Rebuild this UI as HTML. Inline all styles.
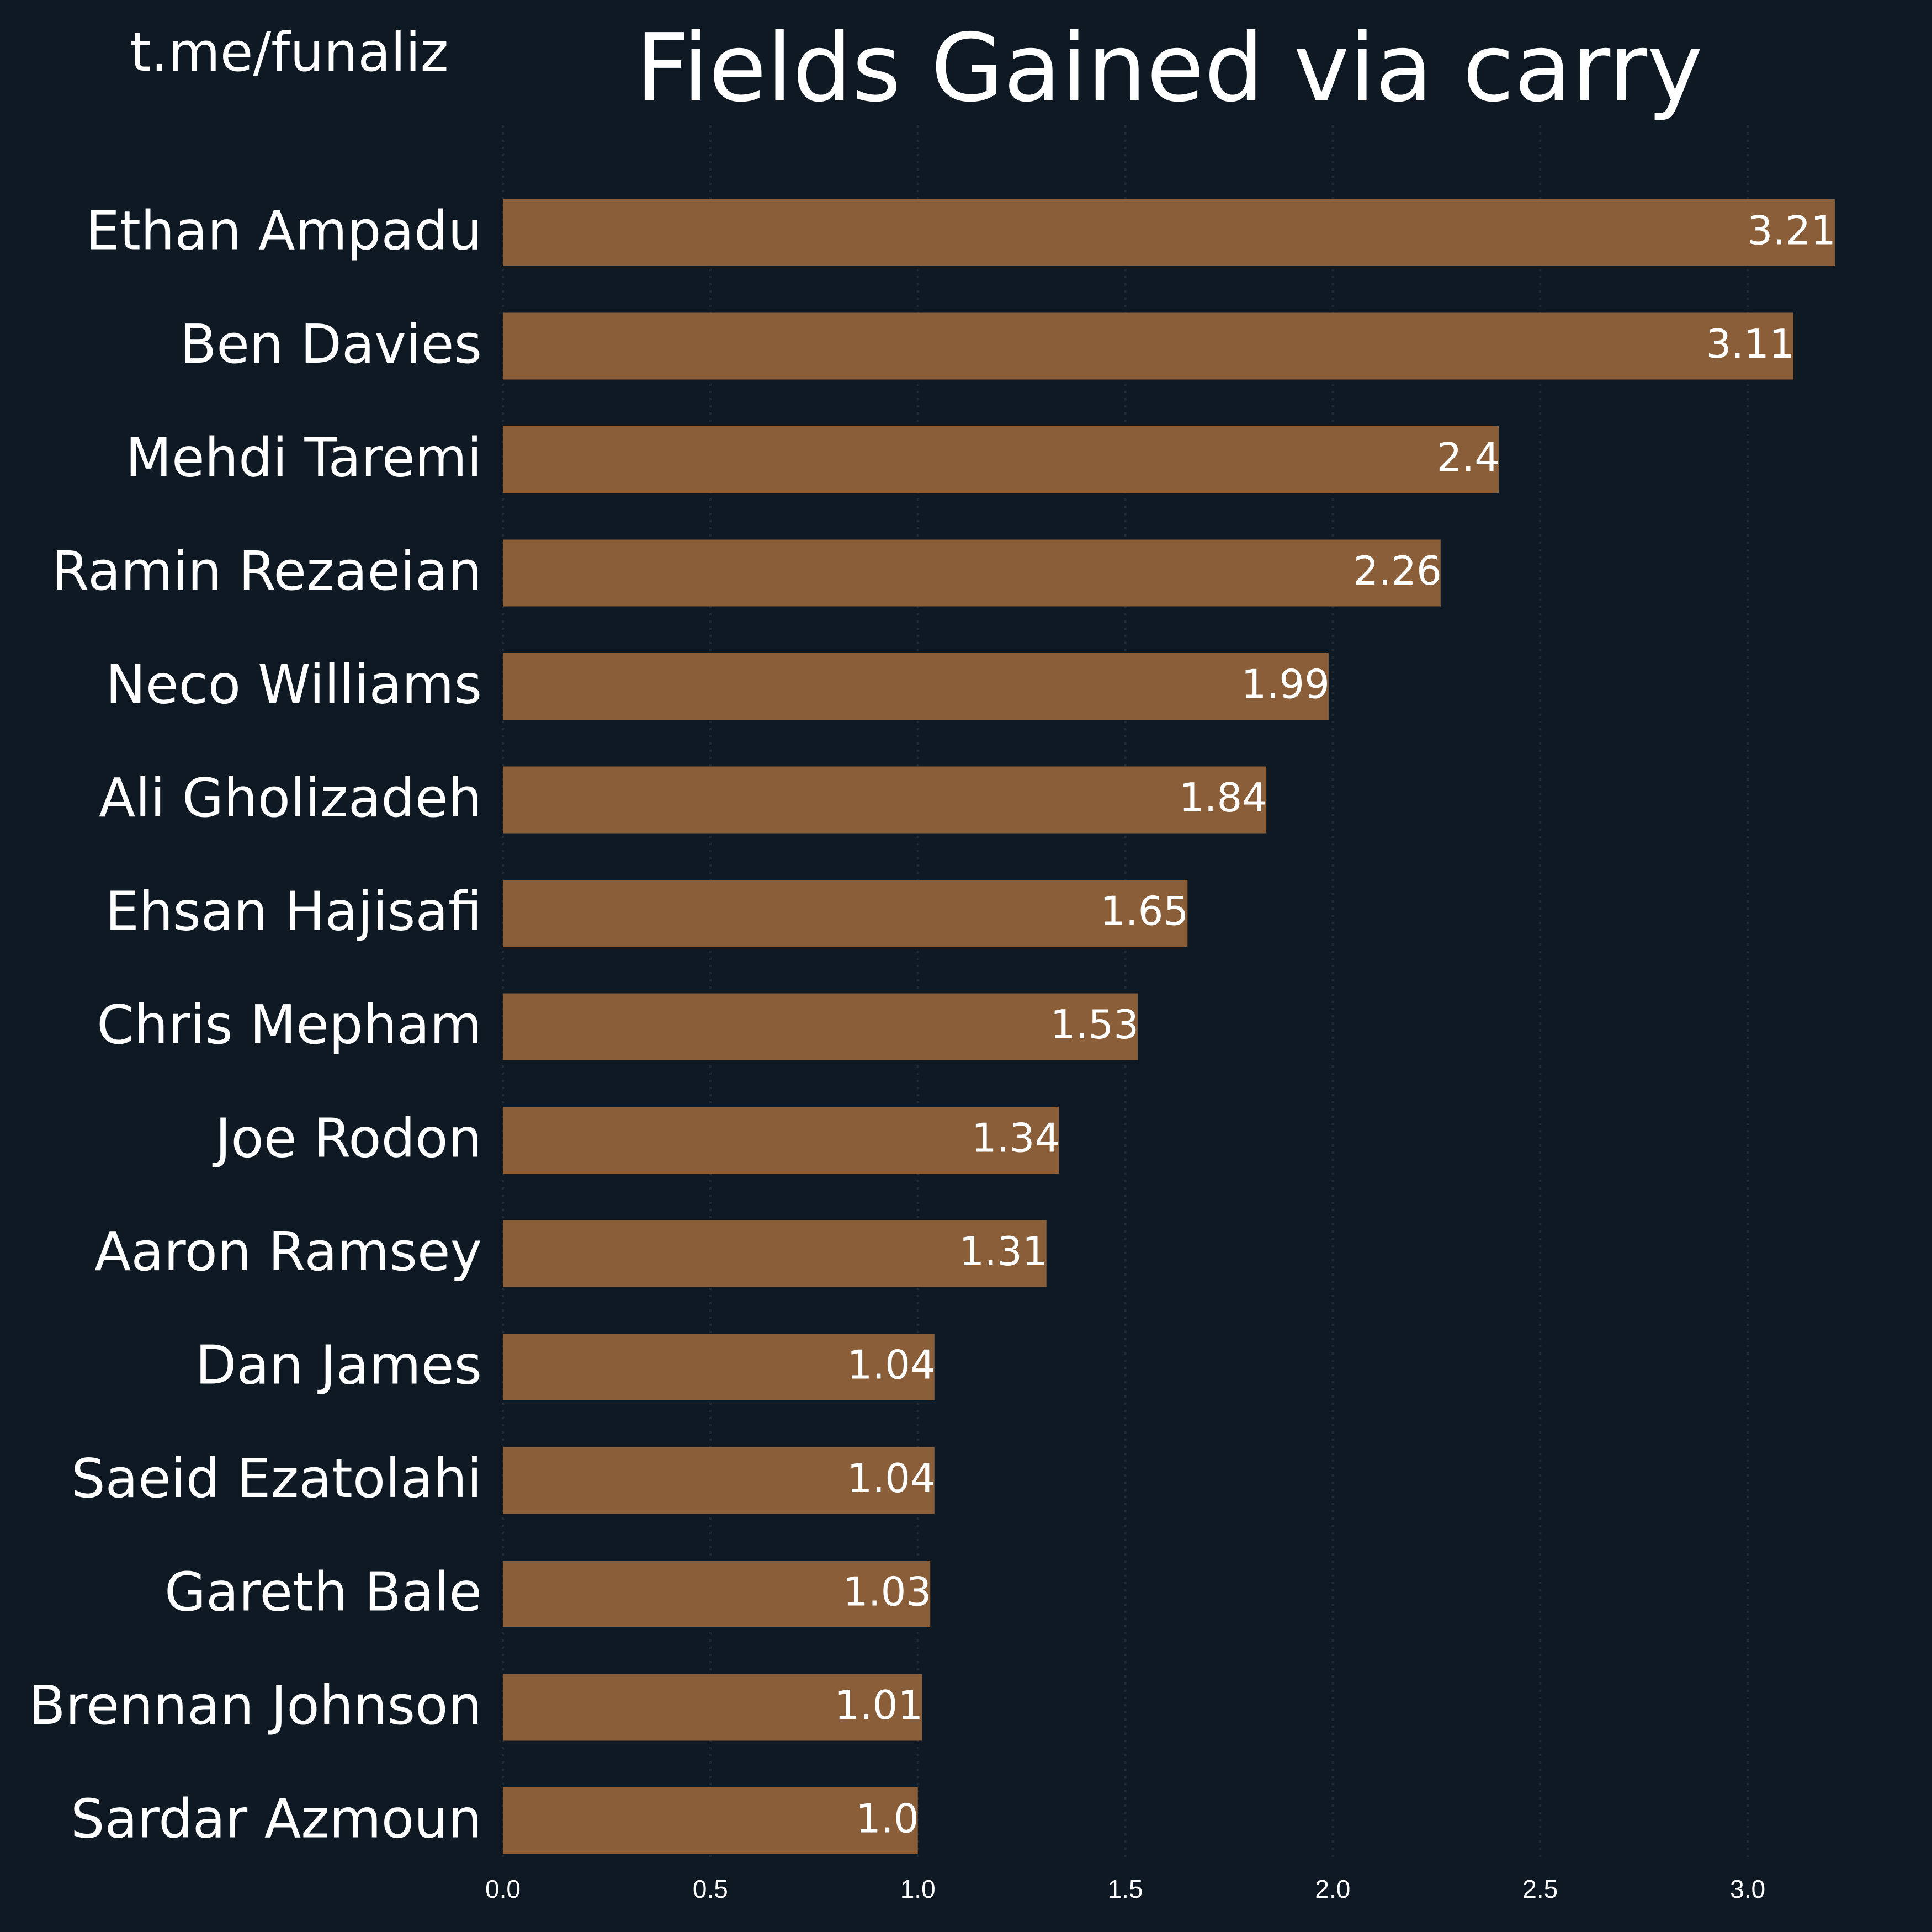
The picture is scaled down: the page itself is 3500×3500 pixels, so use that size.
<!DOCTYPE html>
<html><head><meta charset="utf-8"><style>
html,body{margin:0;padding:0;background:#0f1923;}
svg{display:block;}
</style></head><body>
<svg id="chart" width="3500" height="3500" viewBox="0 0 3500 3500" xmlns="http://www.w3.org/2000/svg">
<rect x="0" y="0" width="3500" height="3500" fill="#0f1923"/>
<text x="524" y="128" font-family="DejaVu Sans, sans-serif" font-size="97" fill="#ffffff" text-anchor="middle">t.me/funaliz</text>
<text x="2118" y="182" font-family="DejaVu Sans, sans-serif" font-size="170" fill="#ffffff" text-anchor="middle">Fields Gained via carry</text>
<g id="grid"></g>
<g id="bars"></g>
<g id="ticks"></g>
</svg>
<script>
const players = ["Ethan Ampadu","Ben Davies","Mehdi Taremi","Ramin Rezaeian","Neco Williams","Ali Gholizadeh","Ehsan Hajisafi","Chris Mepham","Joe Rodon","Aaron Ramsey","Dan James","Saeid Ezatolahi","Gareth Bale","Brennan Johnson","Sardar Azmoun"];
const values = [3.21,3.11,2.4,2.26,1.99,1.84,1.65,1.53,1.34,1.31,1.04,1.04,1.03,1.01,1.0];
const valueLabels = ["3.21","3.11","2.4","2.26","1.99","1.84","1.65","1.53","1.34","1.31","1.04","1.04","1.03","1.01","1.0"];
const xTicks = [0,0.5,1.0,1.5,2.0,2.5,3.0];
const xTickLabels = ["0.0","0.5","1.0","1.5","2.0","2.5","3.0"];

const NS = "http://www.w3.org/2000/svg";
const x0 = 911, pxPerUnit = 751.7;
function xScale(v){ return x0 + v*pxPerUnit; }
const firstCenter = 421.5, step = 205.5, barH = 121;
function yScale(i){ return firstCenter + i*step; }

const grid = document.getElementById('grid');
const ticks = document.getElementById('ticks');
xTicks.forEach((t,i)=>{
  const l = document.createElementNS(NS,'line');
  l.setAttribute('x1',xScale(t)); l.setAttribute('x2',xScale(t));
  l.setAttribute('y1',227); l.setAttribute('y2',3370);
  l.setAttribute('stroke','#1f2a35'); l.setAttribute('stroke-width','4');
  l.setAttribute('stroke-dasharray','4 9');
  
  
  grid.appendChild(l);
  const tx = document.createElementNS(NS,'text');
  tx.setAttribute('x',xScale(t)); tx.setAttribute('y',3438);
  tx.setAttribute('font-family','Liberation Sans, Arial, sans-serif');
  tx.setAttribute('font-size','46'); tx.setAttribute('fill','#ffffff');
  tx.setAttribute('text-anchor','middle');
  tx.textContent = xTickLabels[i];
  
  
  ticks.appendChild(tx);
});

const bars = document.getElementById('bars');
players.forEach((p,i)=>{
  const cy = yScale(i);
  const r = document.createElementNS(NS,'rect');
  r.setAttribute('x',xScale(0)); r.setAttribute('y',cy-barH/2);
  r.setAttribute('width',xScale(values[i])-xScale(0)); r.setAttribute('height',barH);
  r.setAttribute('fill','#8a5e38');
  
  
  bars.appendChild(r);
  const n = document.createElementNS(NS,'text');
  n.setAttribute('x',873); n.setAttribute('y',cy+30);
  n.setAttribute('font-family','DejaVu Sans, sans-serif');
  n.setAttribute('font-size','97'); n.setAttribute('fill','#ffffff');
  n.setAttribute('text-anchor','end');
  n.textContent = p;
  
  
  bars.appendChild(n);
  const v = document.createElementNS(NS,'text');
  v.setAttribute('x',xScale(values[i])+2); v.setAttribute('y',cy+21);
  v.setAttribute('font-family','DejaVu Sans, sans-serif');
  v.setAttribute('font-size','72'); v.setAttribute('fill','#ffffff');
  v.setAttribute('text-anchor','end');
  v.textContent = valueLabels[i];
  
  
  bars.appendChild(v);
});
</script>
</body></html>
